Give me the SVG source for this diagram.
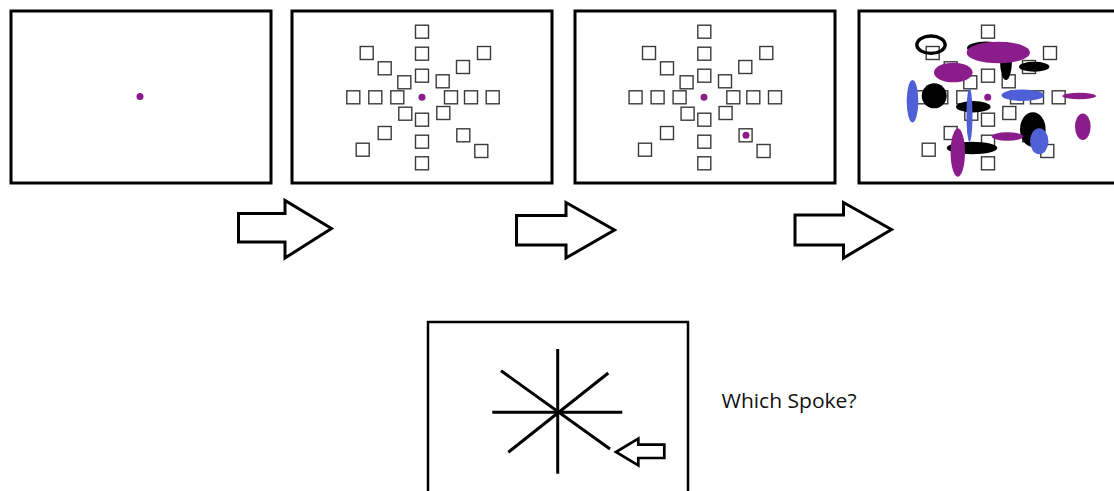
<svg xmlns="http://www.w3.org/2000/svg" xmlns:xlink="http://www.w3.org/1999/xlink" width="1114" height="491" viewBox="0 0 1114 491">
<style>
.panel{fill:#fff;stroke:#000;stroke-width:3}
.sq{fill:#fff;stroke:#3a3a3a;stroke-width:1.4}
.arrow{fill:#fff;stroke:#000;stroke-width:3;stroke-linejoin:miter}
.pu{fill:#8b1c8b}
.bl{fill:#4f5fd6}
.bk{fill:#000}
.spoke{stroke:#000;stroke-width:3;stroke-linecap:butt}
.label{font-family:"Open Sans","Liberation Sans",sans-serif;font-size:20px;fill:#111}
</style>
<defs>
<g id="squares">
<rect class="sq" x="-6.5" y="-72.1" width="13" height="13"/>
<rect class="sq" x="-6.5" y="-50.1" width="13" height="13"/>
<rect class="sq" x="-6.5" y="-28.1" width="13" height="13"/>
<rect class="sq" x="-6.5" y="15.9" width="13" height="13"/>
<rect class="sq" x="-6.5" y="37.9" width="13" height="13"/>
<rect class="sq" x="-6.5" y="59.5" width="13" height="13"/>
<rect class="sq" x="-75.2" y="-6.5" width="13" height="13"/>
<rect class="sq" x="-53.2" y="-6.5" width="13" height="13"/>
<rect class="sq" x="-31.2" y="-6.5" width="13" height="13"/>
<rect class="sq" x="22.5" y="-6.5" width="13" height="13"/>
<rect class="sq" x="42.5" y="-6.5" width="13" height="13"/>
<rect class="sq" x="64.2" y="-6.5" width="13" height="13"/>
<rect class="sq" x="-61.8" y="-50.8" width="13" height="13"/>
<rect class="sq" x="-43.8" y="-35.5" width="13" height="13"/>
<rect class="sq" x="-24.2" y="-21.5" width="13" height="13"/>
<rect class="sq" x="14.2" y="-22.5" width="13" height="13"/>
<rect class="sq" x="34.5" y="-36.8" width="13" height="13"/>
<rect class="sq" x="55.5" y="-50.8" width="13" height="13"/>
<rect class="sq" x="-23.2" y="9.9" width="13" height="13"/>
<rect class="sq" x="-43.8" y="29.2" width="13" height="13"/>
<rect class="sq" x="-65.8" y="45.9" width="13" height="13"/>
<rect class="sq" x="14.8" y="9.2" width="13" height="13"/>
<rect class="sq" x="34.8" y="31.5" width="13" height="13"/>
<rect class="sq" x="52.8" y="47.2" width="13" height="13"/>
</g>
</defs>

<g id="panel1">
<rect class="panel" x="11" y="11" width="260" height="172"/>
<circle class="pu" cx="140" cy="96.5" r="3.5"/>
</g>

<g id="panel2">
<rect class="panel" x="292" y="11" width="260" height="172"/>
<use xlink:href="#squares" transform="translate(422,97.3)"/>
<circle class="pu" cx="422" cy="97.3" r="3.5"/>
</g>

<g id="panel3">
<rect class="panel" x="575" y="11" width="260" height="172"/>
<use xlink:href="#squares" transform="translate(704.3,97.3)"/>
<circle class="pu" cx="704" cy="97.3" r="3.5"/>
<circle class="pu" cx="746" cy="135.3" r="3.5"/>
</g>

<g id="panel4">
<rect class="panel" x="859" y="11" width="260" height="172"/>
<use xlink:href="#squares" transform="translate(988,97.3)"/>
<ellipse cx="931" cy="44.7" rx="14.2" ry="8.7" fill="none" stroke="#000" stroke-width="3.3"/>
<ellipse class="bk" cx="986" cy="48" rx="19" ry="6.5"/>
<ellipse class="bk" cx="1006" cy="61" rx="6" ry="19"/>
<ellipse class="pu" cx="998.3" cy="52.5" rx="31.7" ry="10.8"/>
<ellipse class="bk" cx="1034.2" cy="66.7" rx="15.2" ry="5"/>
<ellipse class="pu" cx="953.3" cy="72.5" rx="19.3" ry="9.8"/>
<ellipse class="bl" cx="912.5" cy="101.3" rx="5.8" ry="21.3"/>
<circle class="bk" cx="934.2" cy="95.8" r="12.5"/>
<ellipse class="bk" cx="973.3" cy="106.7" rx="17.3" ry="5.7"/>
<ellipse class="bl" cx="969.5" cy="115" rx="3" ry="26.7"/>
<circle class="pu" cx="987.7" cy="97.3" r="3.5"/>
<ellipse class="bl" cx="1022.8" cy="95.2" rx="21.2" ry="5.8"/>
<ellipse class="pu" cx="1079.2" cy="96" rx="16.8" ry="3.3"/>
<ellipse class="pu" cx="1082.8" cy="126.7" rx="7.8" ry="13.3"/>
<ellipse class="bk" cx="1032.8" cy="129.5" rx="12.8" ry="17.2"/>
<ellipse class="pu" cx="1007.5" cy="136.5" rx="15.8" ry="4.2"/>
<ellipse class="bl" cx="1039.2" cy="141.3" rx="9.2" ry="13"/>
<ellipse class="bk" cx="972" cy="148" rx="25.3" ry="6.3"/>
<ellipse class="pu" cx="957.8" cy="152.5" rx="7.2" ry="24.2"/>
</g>

<g id="connectors">
<path class="arrow" d="M238.5,213.5 H285 V200.5 L331.5,228.5 L285,258 V242 H238.5 Z"/>
<path class="arrow" d="M516.5,215.5 H566 V202.5 L614.5,230 L566,258 V245 H516.5 Z"/>
<path class="arrow" d="M795,215 H843.5 V202.5 L891.5,229.5 L843.5,258 V245 H795 Z"/>
</g>

<g id="question">
<rect x="428" y="322" width="260" height="175" fill="#fff" stroke="#000" stroke-width="2.5"/>
<line class="spoke" x1="557.7" y1="349" x2="557.7" y2="473.7"/>
<line class="spoke" x1="492.3" y1="412.3" x2="622.3" y2="412.3"/>
<line class="spoke" x1="501" y1="370.7" x2="610" y2="449"/>
<line class="spoke" x1="608.3" y1="373" x2="508.3" y2="452.3"/>
<path d="M616,452 L638.3,438.7 V444.7 H664.3 V458 H638.3 V465.3 Z" fill="#fff" stroke="#000" stroke-width="2.7"/>
<text class="label" x="721.5" y="407.5" textLength="135" lengthAdjust="spacingAndGlyphs">Which Spoke?</text>
</g>
</svg>
